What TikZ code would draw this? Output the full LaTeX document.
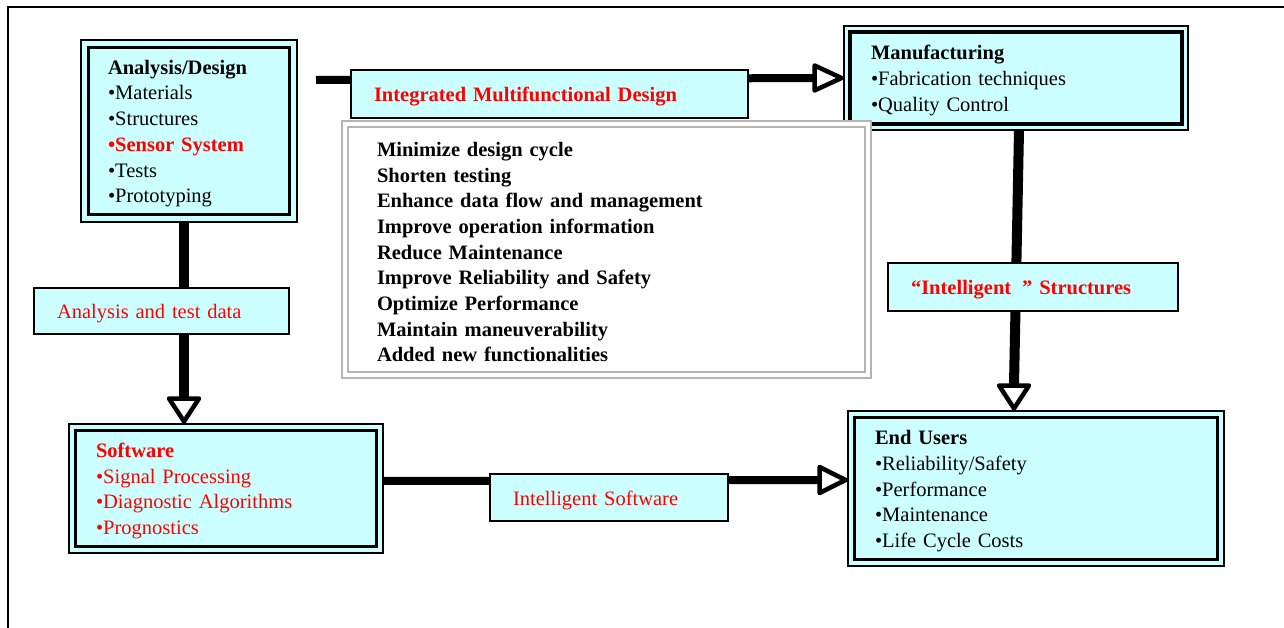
\documentclass[tikz,border=0pt]{standalone}
\usepackage{fontspec}
\setmainfont{Liberation Serif}
\definecolor{cyfill}{HTML}{CCFFFF}
\definecolor{rd}{HTML}{FF0000}
\definecolor{gr}{HTML}{B4B4B4}
\newcommand\fs{\fontsize{20.5pt}{25.7pt}\selectfont}
\newcommand\tp{\rule{0pt}{19.5pt}}
\newcommand\innername{}
\newcommand\innerframe[3]{\draw[line width=#3,draw=#2] ([shift={(#1,#1)}]\innername.north west) rectangle ([shift={(-#1,-#1)}]\innername.south east);}
\tikzset{
  mainbox/.style={draw=black, line width=2pt, fill=cyfill, outer sep=0pt, inner xsep=27pt, inner ysep=0pt, align=left, font=\fs},
  labelbox/.style={draw=black, line width=1.5pt, fill=cyfill, outer sep=0pt, inner xsep=23pt, inner ysep=0pt, align=left, font=\fs},
  graybox/.style={draw=gr, line width=2pt, fill=white, outer sep=0pt, inner xsep=35pt, inner ysep=0pt, align=left, font=\fs\bfseries},
  hshaft/.style={line width=8pt},
  vshaft/.style={line width=10pt},
  tiphead/.style={draw=black, fill=white, line width=4.5pt, line join=round},
}
\begin{document}
\begin{tikzpicture}[x=1pt,y=-1pt]
\useasboundingbox (0,0) rectangle (1284,628);
\clip (0,0) rectangle (1284,628);
% outer frame
\draw[line width=1.5pt] (8,660) -- (8,7) -- (1300,7);

% main boxes
\node[mainbox, text width=162pt, minimum height=182pt] (an) at (189,131)
  {\tp\textbf{Analysis/Design}\\ •Materials\\ •Structures\\ \textcolor{rd}{\textbf{•Sensor System}}\\ •Tests\\ •Prototyping};
\renewcommand\innername{an}\innerframe{7.5}{black}{3.5pt}

\node[mainbox, text width=290pt, minimum height=104pt] (mf) at (1016,78)
  {\tp\textbf{Manufacturing}\\ •Fabrication techniques\\ •Quality Control};
\renewcommand\innername{mf}\innerframe{6}{black}{3.5pt}

\node[mainbox, text width=260pt, minimum height=129pt, text=rd] (sw) at (226,488.5)
  {\tp\textbf{Software}\\ •Signal Processing\\ •Diagnostic Algorithms\\ •Prognostics};
\renewcommand\innername{sw}\innerframe{6.5}{black}{3.5pt}

\node[mainbox, text width=322pt, minimum height=155pt] (eu) at (1036,488.5)
  {\tp\textbf{End Users}\\ •Reliability/Safety\\ •Performance\\ •Maintenance\\ •Life Cycle Costs};
\renewcommand\innername{eu}\innerframe{6.5}{black}{3.5pt}

% gray box
\node[graybox, text width=459pt, minimum height=257pt] (gb) at (606.5,249.5)
  {\tp Minimize design cycle\\ Shorten testing\\ Enhance data flow and management\\ Improve operation information\\ Reduce Maintenance\\ Improve Reliability and Safety\\ Optimize Performance\\ Maintain maneuverability\\ Added new functionalities};
\renewcommand\innername{gb}\innerframe{6}{gr}{2pt}

% connectors
\coordinate (st) at (316,80);
\draw[hshaft] (st) -- ([xshift=-29pt]mf.west);
\draw[tiphead] ([xshift=-2.5pt]mf.west) -- ++(-27,-12.5) -- ++(0,25) -- cycle;

\draw[vshaft] (an.south -| 184,0) -- ([yshift=26pt]sw.north -| 184,0);
\draw[tiphead] ([yshift=2.5pt]sw.north -| 184,0) -- ++(-15,-23) -- ++(30,0) -- cycle;

\draw[vshaft] (mf.south -| 1019,0) -- ([yshift=26pt]eu.north -| 1014,0);
\draw[tiphead] ([yshift=2.5pt]eu.north -| 1014,0) -- ++(-15,-23) -- ++(30,0) -- cycle;

\draw[hshaft] (sw.east |- 0,481) -- ([xshift=-28pt]eu.west |- 0,480);
\draw[tiphead] ([xshift=-2.5pt]eu.west |- 0,480) -- ++(-26,-13) -- ++(0,26) -- cycle;

% labels
\node[labelbox, text width=351pt, minimum height=48pt, text=rd, font=\fs\bfseries] (l1) at (549.5,94) {\tp Integrated Multifunctional Design};
\node[labelbox, text width=209pt, minimum height=46pt, text=rd] (l2) at (161.5,311) {\tp Analysis and test data};
\node[labelbox, text width=244pt, minimum height=48pt, text=rd, font=\fs\bfseries] (l3) at (1033,287) {\tp “Intelligent\hspace{11pt}” Structures};
\node[labelbox, text width=192pt, minimum height=47pt, text=rd] (l4) at (609,497.5) {\tp Intelligent Software};
\end{tikzpicture}
\end{document}
